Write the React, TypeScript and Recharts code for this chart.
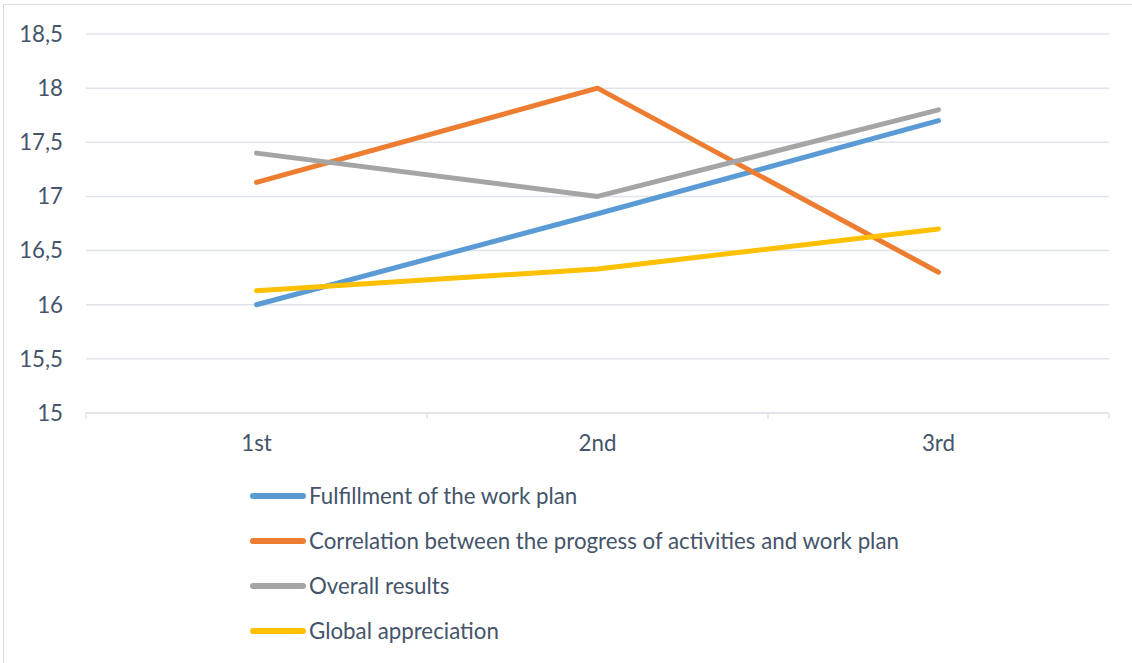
import React from "react";
import { LineChart, Line, XAxis, YAxis, CartesianGrid } from "recharts";

const rounds = ["1st", "2nd", "3rd"];
const fulfillment = [16, 16.84, 17.7];
const correlation = [17.13, 18, 16.3];
const overall = [17.4, 17, 17.8];
const globalAppreciation = [16.13, 16.33, 16.7];
const yTicks = [15, 15.5, 16, 16.5, 17, 17.5, 18, 18.5];

const SERIES = [
  { key: "fulfillment", name: "Fulfillment of the work plan", color: "#5b9bd5" },
  { key: "correlation", name: "Correlation between the progress of activities and work plan", color: "#ed7d31" },
  { key: "overall", name: "Overall results", color: "#a5a5a5" },
  { key: "global", name: "Global appreciation", color: "#ffc000" },
];

const TEXT = "#44546a";
const GRID = "#dfe3ea";
const FONT = "Lato, 'Open Sans', sans-serif";
const FS = 22.3;

const chartData = rounds.map((round, i) => ({
  round,
  fulfillment: fulfillment[i],
  correlation: correlation[i],
  overall: overall[i],
  global: globalAppreciation[i],
}));

const X_MARGIN = 30;

// category label in the middle, small tick marks at the band edges
const XTick = (props: any) => {
  const { x, y, payload, index, visibleTicksCount } = props;
  const off = payload.offset ?? 0;
  const axisY = y - X_MARGIN;
  const last = index === visibleTicksCount - 1;
  return (
    <g>
      <line x1={x - off} x2={x - off} y1={axisY} y2={axisY + 6} stroke={GRID} strokeWidth={1.5} />
      {last && <line x1={x + off} x2={x + off} y1={axisY} y2={axisY + 6} stroke={GRID} strokeWidth={1.5} />}
      <text x={x} y={axisY + 38} textAnchor="middle" fill={TEXT} fontSize={FS} fontFamily={FONT}>
        {payload.value}
      </text>
    </g>
  );
};

export default function App() {
  return (
    <div style={{ position: "absolute", left: 0, top: 0, width: 1132, height: 663, background: "#fff", overflow: "hidden" }}>
      <div style={{ position: "absolute", left: 3, top: 4, width: 1140, height: 680, border: "1.5px solid #d9dde3" }} />
      <LineChart
        width={1132}
        height={663}
        data={chartData}
        margin={{ top: 34, right: 23, left: 0, bottom: 190 }}
        style={{ position: "absolute", left: 0, top: 0 }}
      >
        <CartesianGrid vertical={false} stroke={GRID} strokeWidth={1.5} />
        <XAxis
          dataKey="round"
          scale="band"
          height={60}
          tickSize={0}
          tickMargin={X_MARGIN}
          tickLine={false}
          axisLine={{ stroke: GRID, strokeWidth: 1.5 }}
          tick={<XTick />}
          interval={0}
        />
        <YAxis
          width={86}
          domain={[15, 18.5]}
          ticks={yTicks}
          interval={0}
          axisLine={false}
          tickLine={false}
          tickSize={0}
          tickMargin={23}
          tick={{ fill: TEXT, fontSize: FS, fontFamily: FONT }}
          tickFormatter={(v: number) => String(v).replace(".", ",")}
        />
        {SERIES.map((s) => (
          <Line
            key={s.key}
            dataKey={s.key}
            name={s.name}
            stroke={s.color}
            strokeWidth={5}
            strokeLinecap="round"
            strokeLinejoin="round"
            dot={false}
            activeDot={false}
            isAnimationActive={false}
          />
        ))}
      </LineChart>
      <div style={{ position: "absolute", left: 250, top: 473, fontFamily: FONT, fontSize: FS, color: TEXT }}>
        {SERIES.map((s) => (
          <div key={s.key} style={{ display: "flex", alignItems: "center", height: 45, whiteSpace: "nowrap" }}>
            <span style={{ display: "inline-block", width: 56, height: 6, borderRadius: 3, background: s.color, marginRight: 3 }} />
            <span>{s.name}</span>
          </div>
        ))}
      </div>
    </div>
  );
}
